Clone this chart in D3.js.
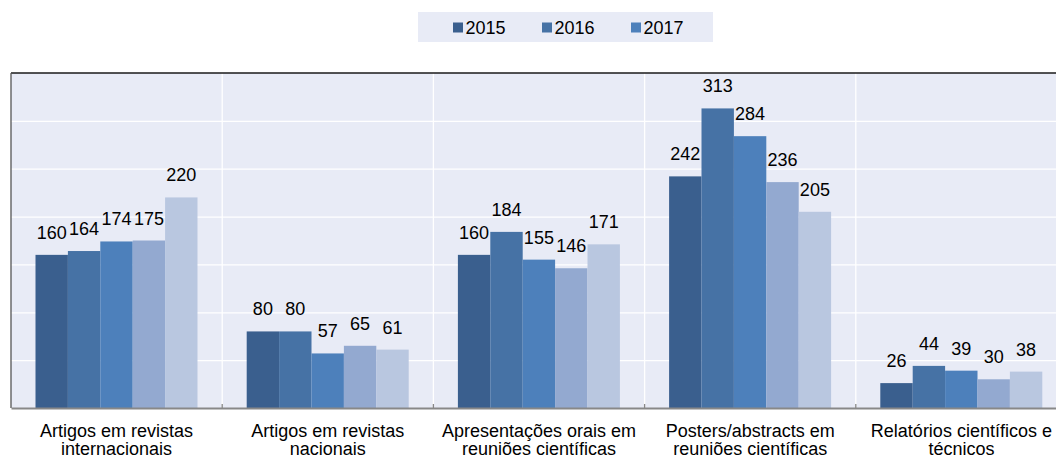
<!DOCTYPE html>
<html>
<head>
<meta charset="utf-8">
<script src="https://cdn.jsdelivr.net/npm/d3@7"></script>
<style>
  html, body { margin: 0; padding: 0; background: #fff; overflow: hidden; }
  svg { display: block; font-family: "Liberation Sans", Arial, sans-serif; }
</style>
</head>
<body>
<svg id="chart" width="1056" height="459"></svg>
<script>
// ---- data ----
const categories = [
  "Artigos em revistas\ninternacionais",
  "Artigos em revistas\nnacionais",
  "Apresentações orais em\nreuniões científicas",
  "Posters/abstracts em\nreuniões científicas",
  "Relatórios científicos e\ntécnicos"
];
const seriesNames = ["2015", "2016", "2017", "S4", "S5"];
const legendNames = ["2015", "2016", "2017"];
const values2015 = [160, 80, 160, 242, 26];
const values2016 = [164, 80, 184, 313, 44];
const values2017 = [174, 57, 155, 284, 39];
const valuesS4   = [175, 65, 146, 236, 30];
const valuesS5   = [220, 61, 171, 205, 38];
const yTicks = [0, 50, 100, 150, 200, 250, 300, 350];

const seriesValues = [values2015, values2016, values2017, valuesS4, valuesS5];
const colors = ["#3a5f8e", "#4672a5", "#4d80bb", "#93a9d0", "#b9c7e0"];

// ---- layout ----
const svg = d3.select("#chart");
const plotLeft = 11, plotTop = 73, plotBottom = 408;
const catW = 211.2;
const plotRight = plotLeft + catW * categories.length;

const x0 = d3.scaleBand().domain(categories).range([plotLeft, plotRight]).paddingInner(0).paddingOuter(0);
const x1 = d3.scaleBand().domain(seriesNames).range([24.5, 24.5 + 162]).padding(0);
const y = d3.scaleLinear().domain([0, 350]).range([plotBottom, plotTop]);

// plot background
svg.append("rect").attr("x", plotLeft).attr("y", plotTop).attr("width", 1056 - plotLeft).attr("height", plotBottom - plotTop)
  .attr("fill", "#e8ebf6");

// horizontal gridlines
const gridAxis = d3.axisLeft(y).tickValues(yTicks.slice(1, -1)).tickSize(-(1056 - plotLeft)).tickFormat("");
svg.append("g").attr("transform", `translate(${plotLeft},0)`).call(gridAxis)
  .call(g => g.select(".domain").remove())
  .call(g => g.selectAll("line").attr("stroke", "#ffffff").attr("stroke-width", 1.3));

// vertical separators
const bounds = categories.slice(1).map(c => x0(c));
svg.append("g").selectAll("line").data(bounds).join("line")
  .attr("x1", d => d).attr("x2", d => d).attr("y1", plotTop).attr("y2", plotBottom)
  .attr("stroke", "#ffffff").attr("stroke-width", 1.3);

// bars
const groups = svg.append("g").selectAll("g").data(categories).join("g")
  .attr("transform", c => `translate(${x0(c)},0)`);
groups.selectAll("rect").data((c, i) => seriesNames.map((s, j) => ({ s, j, v: seriesValues[j][i] })))
  .join("rect")
  .attr("x", d => x1(d.s)).attr("width", x1.bandwidth())
  .attr("y", d => y(d.v)).attr("height", d => plotBottom - y(d.v))
  .attr("fill", d => colors[d.j]);
groups.selectAll("text").data((c, i) => seriesNames.map((s, j) => ({ s, j, v: seriesValues[j][i] })))
  .join("text")
  .attr("x", d => x1(d.s) + x1.bandwidth() / 2)
  .attr("y", d => y(d.v) - 16)
  .attr("text-anchor", "middle").attr("font-size", 18).attr("fill", "#000")
  .text(d => d.v);

// top and left borders
svg.append("line").attr("x1", plotLeft).attr("x2", 1056).attr("y1", plotTop).attr("y2", plotTop)
  .attr("stroke", "#1a1a1a").attr("stroke-width", 1.5);
svg.append("line").attr("x1", plotLeft).attr("x2", plotLeft).attr("y1", plotTop).attr("y2", plotBottom)
  .attr("stroke", "#555").attr("stroke-width", 1.3);

// x axis
const xAxis = d3.axisBottom(x0).tickSize(0).tickFormat("");
const xg = svg.append("g").attr("transform", `translate(0,${plotBottom})`).call(xAxis);
xg.select(".domain").attr("stroke", "#888").attr("stroke-width", 2);
// inner boundary ticks
svg.append("g").selectAll("line").data(bounds).join("line")
  .attr("x1", d => d).attr("x2", d => d).attr("y1", plotBottom - 4).attr("y2", plotBottom)
  .attr("stroke", "#888").attr("stroke-width", 1.3);
// category labels
const lab = svg.append("g").selectAll("text").data(categories).join("text")
  .attr("text-anchor", "middle").attr("font-size", 18).attr("fill", "#000");
lab.each(function (c) {
  const t = d3.select(this);
  c.split("\n").forEach((line, k) => {
    t.append("tspan").attr("x", x0(c) + x0.bandwidth() / 2).attr("y", 437 + k * 18).text(line);
  });
});

// legend
svg.append("rect").attr("x", 418).attr("y", 12).attr("width", 295).attr("height", 30).attr("fill", "#e8ebf6");
const legX = [453, 542, 631];
const leg = svg.append("g").selectAll("g").data(legendNames).join("g")
  .attr("transform", (d, i) => `translate(${legX[i]},0)`);
leg.append("rect").attr("x", 0).attr("y", 22.5).attr("width", 10).attr("height", 10)
  .attr("fill", (d, i) => colors[i]);
leg.append("text").attr("x", 12.5).attr("y", 33.5).attr("font-size", 18).attr("fill", "#000").text(d => d);
</script>
</body>
</html>
